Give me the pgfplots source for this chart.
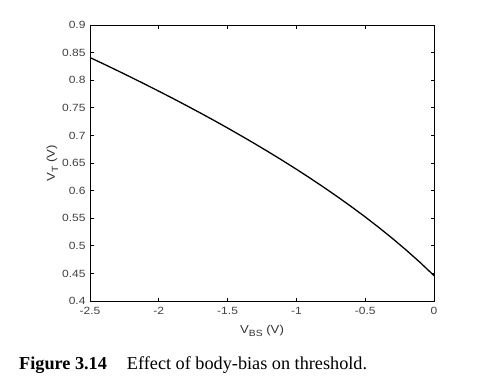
\documentclass[border=0pt]{standalone}
\usepackage{fontspec}
\setmainfont{Liberation Serif}
\newfontfamily\arialS[FakeStretch=1.15]{Liberation Sans}
\usepackage{pgfplots}
\pgfplotsset{compat=1.18}
\begin{document}
\begin{tikzpicture}[x=1bp,y=1bp]
\path[use as bounding box, fill=white] (0,0) rectangle (491,389);
\begin{axis}[
  at={(90bp,88bp)}, anchor=south west,
  width=344bp, height=276bp, scale only axis,
  xmin=-2.5, xmax=0, ymin=0.4, ymax=0.9,
  xtick={-2.5,-2,-1.5,-1,-0.5,0},
  xticklabels={-2.5,-2,-1.5,-1,-0.5,0},
  ytick={0.4,0.45,0.5,0.55,0.6,0.65,0.7,0.75,0.8,0.85,0.9},
  yticklabels={0.4,0.45,0.5,0.55,0.6,0.65,0.7,0.75,0.8,0.85,0.9},
  tick align=inside, major tick length=3.5bp,
  tick style={black, line width=0.8pt},
  axis line style={line width=0.9pt},
  ticklabel style={font=\arialS\fontsize{10.5}{11}\selectfont, text=black!75},
  /pgf/number format/assume math mode=true,
  xticklabel style={yshift=-3bp},
  yticklabel style={xshift=-1bp},
  xlabel={V\raisebox{-0.55ex}{\fontsize{9}{9}\selectfont BS} (V)},
  ylabel={V\raisebox{-0.55ex}{\fontsize{9}{9}\selectfont T} (V)},
  label style={font=\arialS\fontsize{11.5}{12}\selectfont, text=black!80},
  xlabel style={yshift=-3bp},
  ylabel style={yshift=-3bp},
]
\addplot[black, line width=1.3pt, mark=none] coordinates {
(-2.5,0.841) (-2.4,0.8293) (-2.3,0.8173) (-2.2,0.8051) (-2.1,0.7927)
(-2.0,0.7801) (-1.9,0.7673) (-1.8,0.7542) (-1.7,0.7409) (-1.6,0.7273)
(-1.5,0.7134) (-1.4,0.6991) (-1.3,0.6846) (-1.2,0.6697) (-1.1,0.6544)
(-1.0,0.6387) (-0.9,0.6225) (-0.8,0.6058) (-0.7,0.5886) (-0.6,0.5708)
(-0.5,0.5523) (-0.4,0.5330) (-0.3,0.5129) (-0.2,0.4918) (-0.1,0.4696)
(0,0.446)
};
\end{axis}
\node[anchor=base west, inner sep=0pt, font=\fontsize{18.3}{21}\selectfont] at (19,19.7)
  {\textbf{Figure 3.14}\hspace{20bp}Effect of body-bias on threshold.};
\end{tikzpicture}
\end{document}
